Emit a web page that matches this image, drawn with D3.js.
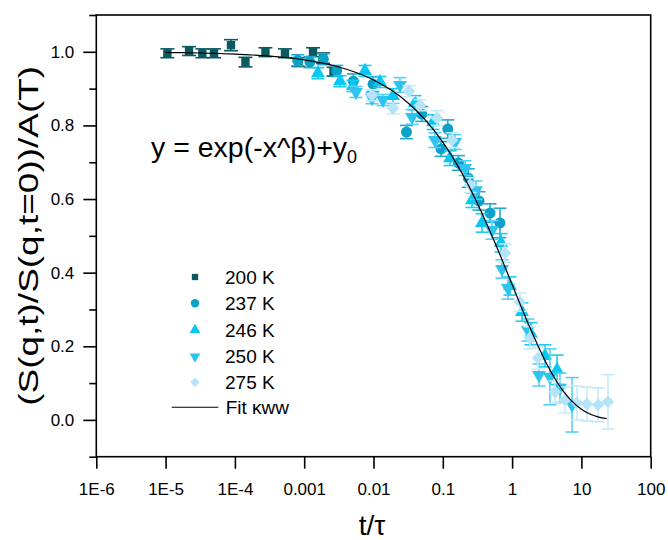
<!DOCTYPE html>
<html><head><meta charset="utf-8">
<script src="https://cdn.jsdelivr.net/npm/d3@7"></script>
<style>body{margin:0;background:#fff} text{font-family:"Liberation Sans",Arial,sans-serif;fill:#000}</style>
</head><body><svg id="c" width="668" height="540"></svg>
<script>
const xTickValues = [1e-6,1e-5,1e-4,1e-3,1e-2,0.1,1,10,100];
const xTickLabels = ["1E-6","1E-5","1E-4","0.001","0.01","0.1","1","10","100"];
const yTickValues = [0,0.2,0.4,0.6,0.8,1.0];
const yTickLabels = ["0.0","0.2","0.4","0.6","0.8","1.0"];
const yMinorTicks = [-0.1,0.1,0.3,0.5,0.7,0.9,1.1];
const seriesNames = ["200 K","237 K","246 K","250 K","275 K"];
const fitName = "Fit \u03baww";

const t200 = [1.06e-5,2.18e-5,3.39e-5,4.99e-5,8.78e-5,1.42e-4,2.76e-4,5.28e-4,8.28e-4,1.34e-3,1.87e-3,2.65e-3];
const s200 = [0.996,1.002,0.996,0.996,1.018,0.972,0.999,0.996,0.972,0.999,0.983,0.946];
const e200 = [0.012,0.012,0.012,0.012,0.015,0.013,0.012,0.012,0.012,0.012,0.014,0.012];

const t237 = [8.05e-4,1.21e-3,1.89e-3,2.94e-3,5.12e-3,9.84e-3,0.0299,0.0497,0.0942,0.118,0.168,0.233,0.333,0.480,0.668];
const s237 = [0.977,0.972,0.980,0.948,0.920,0.912,0.782,0.831,0.736,0.790,0.698,0.657,0.595,0.562,0.535];
const e237 = [0.015,0.015,0.015,0.015,0.02,0.02,0.018,0.02,0.02,0.025,0.02,0.025,0.025,0.025,0.04];

const t246 = [1.58e-3,3.29e-3,5.06e-3,7.53e-3,0.0124,0.0191,0.0397,0.0723,0.127,0.264,0.368,0.692,0.933,1.39,1.87,2.98,4.45];
const s246 = [0.942,0.920,0.907,0.948,0.918,0.880,0.861,0.809,0.711,0.597,0.535,0.481,0.364,0.293,0.234,0.174,0.136];
const e246 = [0.015,0.015,0.015,0.015,0.015,0.02,0.02,0.02,0.02,0.02,0.025,0.025,0.025,0.025,0.03,0.03,0.04];

const t250 = [5.58e-3,9.51e-3,0.0137,0.0241,0.0360,0.0771,0.150,0.209,0.301,0.513,0.714,0.873,1.69,2.44,3.52,4.91,7.33];
const s250 = [0.891,0.874,0.869,0.910,0.823,0.760,0.755,0.684,0.624,0.516,0.410,0.358,0.244,0.122,0.117,0.087,0.041];
const e250 = [0.015,0.015,0.015,0.02,0.02,0.02,0.02,0.02,0.025,0.025,0.025,0.03,0.03,0.03,0.076,0.04,0.074];

const t275 = [9.51e-3,0.0191,0.0325,0.0469,0.0824,0.136,0.247,0.791,1.30,1.81,2.37,4.16,5.81,8.65,12.0,17.4,24.2];
const s275 = [0.882,0.847,0.893,0.855,0.820,0.760,0.638,0.453,0.320,0.223,0.168,0.076,0.054,0.046,0.043,0.041,0.049];
const e275 = [0.015,0.015,0.015,0.015,0.02,0.02,0.02,0.025,0.025,0.03,0.03,0.03,0.035,0.046,0.046,0.046,0.074];

const fitT = [1e-5,1.78e-5,3.16e-5,5.62e-5,1e-4,1.78e-4,3.16e-4,5.62e-4,1e-3,1.78e-3,3.16e-3,5.62e-3,0.01,0.0178,0.0316,0.0562,0.1,0.178,0.316,0.562,1,1.78,3.16,5.62,10,17.8,23.2];
const fitS = [0.9982,0.9976,0.9967,0.9954,0.9937,0.9914,0.9882,0.9838,0.9779,0.9697,0.9587,0.9438,0.9236,0.8967,0.8610,0.8143,0.7544,0.6792,0.5881,0.4826,0.3679,0.2535,0.1520,0.0754,0.0288,0.0077,0.0036];

const colors = ["#0b5a62","#0aa2c7","#08c8f3","#2ec4f0","#b5e4f9"];
const barColors = ["#0b5a62","#22aacd","#1ccbf4","#55d0f3","#c4eafb"];

const svg = d3.select("#c");
const L = 96.3, R = 650.7, T = 15, B = 456.7;
const x = d3.scaleLog().domain([1e-6,100]).range([L,R]);
const y = d3.scaleLinear().domain([-0.1,1.1]).range([B,T]);

const series = [
  {t:t200,s:s200,e:e200,sym:d3.symbolSquare,size:70,rot:0,cap:7},
  {t:t237,s:s237,e:e237,sym:d3.symbolCircle,size:95,rot:0,cap:6.5},
  {t:t246,s:s246,e:e246,sym:d3.symbolTriangle,size:85,rot:0,cap:6.5},
  {t:t250,s:s250,e:e250,sym:d3.symbolTriangle,size:85,rot:180,cap:6.5},
  {t:t275,s:s275,e:e275,sym:d3.symbolSquare,size:80,rot:45,cap:6.5}
];

const plot = svg.append("g");
series.forEach((sr,i)=>{
  const g = plot.append("g");
  sr.t.forEach((tv,j)=>{
    const cx = x(tv), v = sr.s[j], e = sr.e[j];
    const y1 = y(v+e), y2 = y(v-e);
    g.append("line").attr("x1",cx).attr("x2",cx).attr("y1",y1).attr("y2",y2)
      .attr("stroke",barColors[i]).attr("stroke-width",1.6);
    [y1,y2].forEach(yy=>g.append("line").attr("x1",cx-sr.cap).attr("x2",cx+sr.cap)
      .attr("y1",yy).attr("y2",yy).attr("stroke",barColors[i]).attr("stroke-width",1.6));
  });
  sr.t.forEach((tv,j)=>{
    g.append("path").attr("d",d3.symbol(sr.sym,sr.size)())
      .attr("transform",`translate(${x(tv)},${y(sr.s[j])}) rotate(${sr.rot})`)
      .attr("fill",colors[i]);
  });
});

// fit line
const line = d3.line().x((d,i)=>x(fitT[i])).y((d,i)=>y(fitS[i])).curve(d3.curveMonotoneX);
plot.append("path").attr("d",line(fitT)).attr("fill","none").attr("stroke","#000").attr("stroke-width",1.2);

// frame
svg.append("rect").attr("x",L).attr("y",T).attr("width",R-L).attr("height",B-T)
  .attr("fill","none").attr("stroke","#000").attr("stroke-width",1.6);

// axes
const xAxis = d3.axisBottom(x).tickValues(xTickValues).tickFormat((d,i)=>xTickLabels[i]).tickSize(12).tickPadding(14);
const gx = svg.append("g").attr("transform",`translate(0,${B})`).call(xAxis);
gx.select(".domain").remove();
gx.selectAll("line").attr("stroke","#000").attr("stroke-width",1.6);
gx.selectAll("text").attr("font-size",17).style("font-family","'Liberation Sans',Arial,sans-serif");

const yAxis = d3.axisLeft(y).tickValues(yTickValues).tickFormat((d,i)=>yTickLabels[i]).tickSize(13).tickPadding(9);
const gy = svg.append("g").attr("transform",`translate(${L},0)`).call(yAxis);
gy.select(".domain").remove();
gy.selectAll("line").attr("stroke","#000").attr("stroke-width",1.6);
gy.selectAll("text").attr("font-size",17).style("font-family","'Liberation Sans',Arial,sans-serif");

const yAxisMinor = d3.axisLeft(y).tickValues(yMinorTicks).tickFormat("").tickSize(7);
const gym = svg.append("g").attr("transform",`translate(${L},0)`).call(yAxisMinor);
gym.select(".domain").remove();
gym.selectAll("line").attr("stroke","#000").attr("stroke-width",1.6);

// titles
svg.append("text").attr("x",372).attr("y",535).attr("text-anchor","middle").attr("font-size",28).text("t/\u03c4");
svg.append("text").attr("transform",`translate(38,${(T+B)/2}) rotate(-90)`).attr("text-anchor","middle")
  .attr("font-size",28).attr("textLength",340).attr("lengthAdjust","spacingAndGlyphs").text("(S(q,t)/S(q,t=0))/A(T)");

// equation
const eq = svg.append("text").attr("x",151).attr("y",157).attr("font-size",28.5);
eq.append("tspan").text("y = exp(-x^\u03b2)+y");
eq.append("tspan").attr("font-size",18).attr("dy",6).text("0");

// legend
const legY = [277,303.3,330,356.5,382.3];
const legSyms = [
  {sym:d3.symbolSquare,size:40,rot:0},
  {sym:d3.symbolCircle,size:55,rot:0},
  {sym:d3.symbolTriangle,size:50,rot:0},
  {sym:d3.symbolTriangle,size:50,rot:180},
  {sym:d3.symbolSquare,size:45,rot:45}
];
const leg = svg.append("g");
seriesNames.forEach((n,i)=>{
  leg.append("path").attr("d",d3.symbol(legSyms[i].sym,legSyms[i].size)())
    .attr("transform",`translate(195,${legY[i]}) rotate(${legSyms[i].rot})`).attr("fill",colors[i]);
  leg.append("text").attr("x",225).attr("y",legY[i]).attr("dy","0.36em").attr("font-size",19).text(n);
});
leg.append("line").attr("x1",171.7).attr("x2",218.3).attr("y1",407.3).attr("y2",407.3).attr("stroke","#000").attr("stroke-width",1.1);
leg.append("text").attr("x",225.7).attr("y",407.3).attr("dy","0.36em").attr("font-size",19).text(fitName);
</script></body></html>
